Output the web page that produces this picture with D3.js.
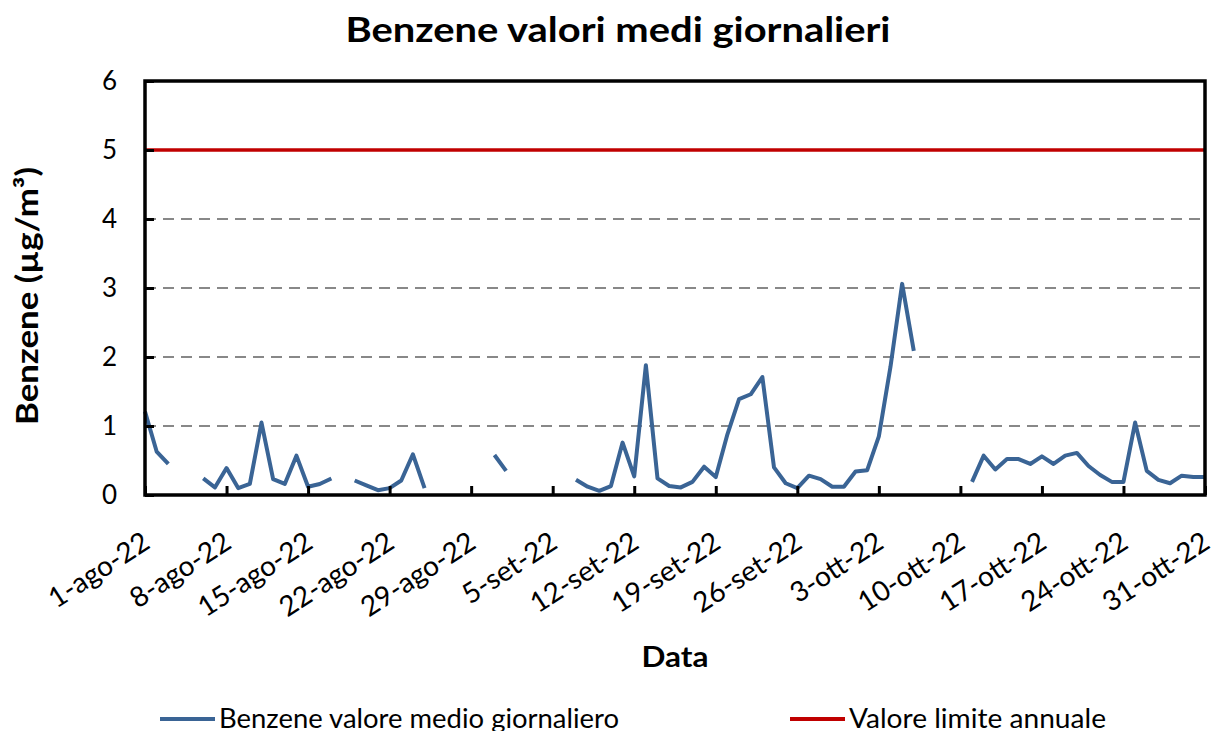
<!DOCTYPE html>
<html>
<head>
<meta charset="utf-8">
<script src="https://cdn.jsdelivr.net/npm/d3@7"></script>
<style>
  body { margin: 0; background: #fff; }
  svg { font-family: Lato, "Open Sans", sans-serif; }
</style>
</head>
<body>
<svg id="chart"></svg>
<script>
const svgWidth = 1217;
const svgHeight = 731;

// daily values from 1-ago-22 to 31-ott-22 (null = missing day)
const startDate = new Date(2022, 7, 1);
const benzene = [
  1.21, 0.63, 0.45, null, null, 0.24, 0.11, 0.39, 0.10, 0.16,
  1.05, 0.23, 0.16, 0.57, 0.12, 0.16, 0.24, null, 0.21, 0.14,
  0.07, 0.10, 0.21, 0.59, 0.10, null, null, null, null, null,
  0.58, 0.35, null, null, null, null, null, 0.22, 0.12, 0.06,
  0.13, 0.76, 0.27, 1.88, 0.24, 0.13, 0.11, 0.19, 0.41, 0.26,
  0.88, 1.39, 1.46, 1.71, 0.40, 0.17, 0.10, 0.28, 0.23, 0.12,
  0.12, 0.34, 0.36, 0.85, 1.86, 3.06, 2.09, null, null, null,
  null, 0.19, 0.57, 0.37, 0.52, 0.52, 0.45, 0.56, 0.45, 0.57,
  0.61, 0.42, 0.29, 0.19, 0.19, 1.05, 0.35, 0.22, 0.17, 0.28,
  0.26, 0.26
];
const limitValue = 5;
const yTicks = [0, 1, 2, 3, 4, 5, 6];
const gridValues = [1, 2, 3, 4];
const mesi = ["gen", "feb", "mar", "apr", "mag", "giu", "lug", "ago", "set", "ott", "nov", "dic"];
const legendLabels = ["Benzene valore medio giornaliero", "Valore limite annuale"];

const data = benzene.map((v, i) => ({ date: d3.timeDay.offset(startDate, i), value: v }));
const endDate = data[data.length - 1].date;
const tickDates = d3.timeDay.range(startDate, d3.timeDay.offset(endDate, 1), 7);

const margin = { top: 81, right: 12, bottom: 236, left: 145 };
const width = svgWidth - margin.left - margin.right;
const height = svgHeight - margin.top - margin.bottom;

const blue = "#3a6495";
const red = "#c00000";

const svg = d3.select("#chart")
  .attr("width", svgWidth)
  .attr("height", svgHeight);

// title
svg.append("text")
  .attr("x", 618)
  .attr("y", 42)
  .attr("text-anchor", "middle")
  .attr("textLength", 545)
  .attr("lengthAdjust", "spacingAndGlyphs")
  .style("font-size", "35px")
  .style("font-weight", "bold")
  .text("Benzene valori medi giornalieri");

const g = svg.append("g")
  .attr("transform", `translate(${margin.left},${margin.top})`);

const x = d3.scaleTime()
  .domain([startDate, endDate])
  .range([0, width]);

const y = d3.scaleLinear()
  .domain([0, 6])
  .range([height, 0]);

// dashed grid
g.selectAll(".grid")
  .data(gridValues)
  .enter().append("line")
  .attr("class", "grid")
  .attr("x1", 0)
  .attr("x2", width)
  .attr("y1", d => y(d))
  .attr("y2", d => y(d))
  .attr("stroke", "#888")
  .attr("stroke-width", 2)
  .attr("stroke-dasharray", "11,7");

// limit line
g.append("line")
  .attr("x1", 0)
  .attr("x2", width)
  .attr("y1", y(limitValue))
  .attr("y2", y(limitValue))
  .attr("stroke", red)
  .attr("stroke-width", 3.5);

// series
const line = d3.line()
  .defined(d => d.value !== null)
  .x(d => x(d.date))
  .y(d => y(d.value));

g.append("path")
  .datum(data)
  .attr("fill", "none")
  .attr("stroke", blue)
  .attr("stroke-width", 4)
  .attr("stroke-linejoin", "round")
  .attr("d", line);

// axes (ticks pointing inward)
const xAxis = d3.axisBottom(x)
  .tickValues(tickDates)
  .tickSizeInner(-9)
  .tickSizeOuter(0)
  .tickFormat(d => `${d.getDate()}-${mesi[d.getMonth()]}-22`);

const gx = g.append("g")
  .attr("transform", `translate(0,${height})`)
  .call(xAxis);
gx.select(".domain").remove();
gx.selectAll(".tick line").attr("stroke", "#000").attr("stroke-width", 3);
gx.selectAll("text")
  .style("font-size", "28px")
  .style("font-family", "Lato, sans-serif")
  .attr("fill", "#000")
  .attr("text-anchor", "end")
  .attr("dy", 0)
  .attr("transform", "translate(6,52) rotate(-33)")
  .attr("x", 0)
  .attr("y", 0);

const yAxis = d3.axisLeft(y)
  .tickValues(yTicks)
  .tickSizeInner(-9)
  .tickSizeOuter(0)
  .tickPadding(28)
  .tickFormat(d3.format("d"));

const gy = g.append("g").call(yAxis);
gy.select(".domain").remove();
gy.selectAll(".tick line").attr("stroke", "#000").attr("stroke-width", 3);
gy.selectAll("text")
  .style("font-size", "26px")
  .style("font-family", "Lato, sans-serif")
  .attr("fill", "#000");

// plot border
g.append("rect")
  .attr("x", 0)
  .attr("y", 0)
  .attr("width", width)
  .attr("height", height)
  .attr("fill", "none")
  .attr("stroke", "#000")
  .attr("stroke-width", 3.5);

// axis titles
svg.append("text")
  .attr("transform", `translate(38,296) rotate(-90)`)
  .attr("text-anchor", "middle")
  .attr("textLength", 258)
  .attr("lengthAdjust", "spacingAndGlyphs")
  .style("font-size", "30px")
  .style("font-weight", "bold")
  .text("Benzene (µg/m³)");

svg.append("text")
  .attr("x", 675)
  .attr("y", 667)
  .attr("text-anchor", "middle")
  .attr("textLength", 67)
  .attr("lengthAdjust", "spacingAndGlyphs")
  .style("font-size", "29px")
  .style("font-weight", "bold")
  .text("Data");

// legend
const legendX = [160, 790];
const legendWidths = [400, 257];
const legendColors = [blue, red];
const leg = svg.selectAll(".legend")
  .data(legendLabels)
  .enter().append("g")
  .attr("class", "legend")
  .attr("transform", (d, i) => `translate(${legendX[i]},719)`);

leg.append("line")
  .attr("x1", 0)
  .attr("x2", 55)
  .attr("stroke", (d, i) => legendColors[i])
  .attr("stroke-width", 4);

leg.append("text")
  .attr("x", 59)
  .attr("y", 9)
  .attr("textLength", (d, i) => legendWidths[i])
  .attr("lengthAdjust", "spacingAndGlyphs")
  .style("font-size", "27px")
  .text(d => d);
</script>
</body>
</html>
